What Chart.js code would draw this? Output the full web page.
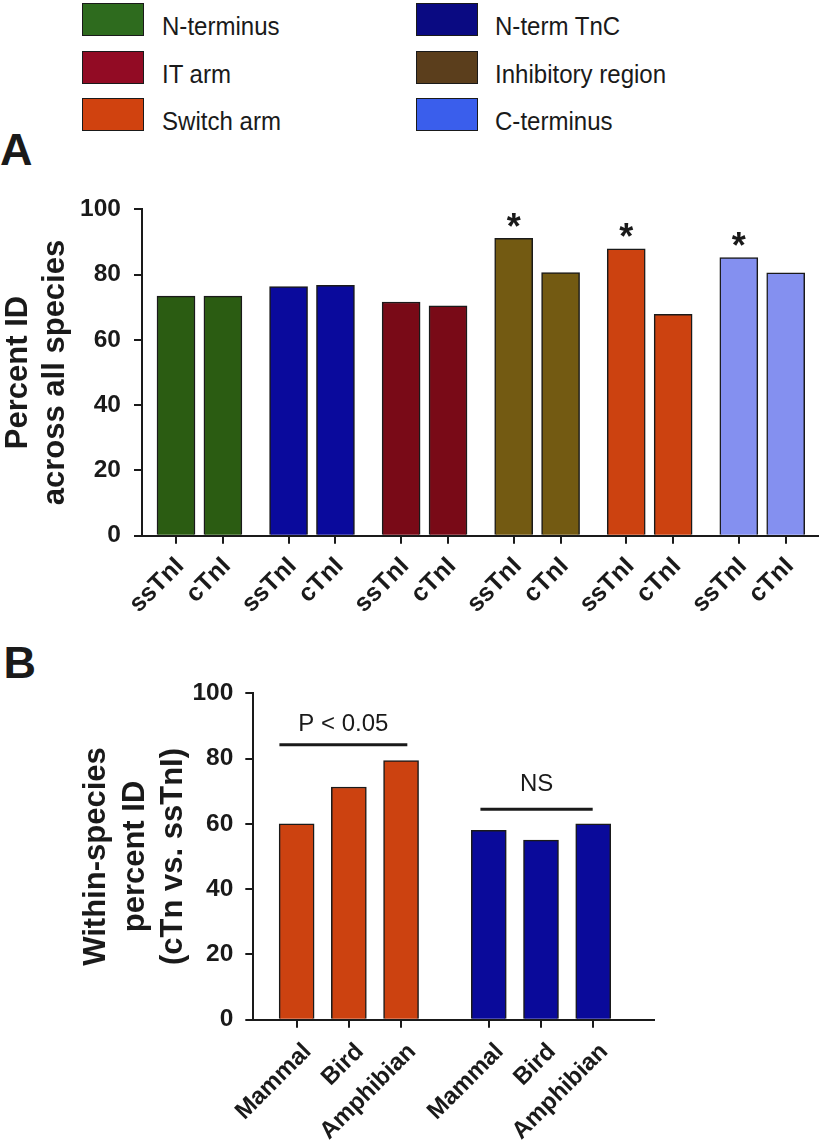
<!DOCTYPE html>
<html>
<head>
<meta charset="utf-8">
<script src="https://cdn.jsdelivr.net/npm/chart.js@4.4.1/dist/chart.umd.min.js"></script>
<style>
html,body{margin:0;padding:0;background:#fff;}
body{width:822px;height:1141px;position:relative;overflow:hidden;font-family:"Liberation Sans",Arial,sans-serif;color:#1a1a1a;}
.sw{position:absolute;box-sizing:border-box;width:62px;height:33px;border:1.5px solid #1a1a1a;}
.lt{position:absolute;font-size:26px;line-height:1;white-space:nowrap;transform-origin:0 50%;transform:translateY(-50%) scaleX(0.925);color:#1a1a1a;}
.pl{position:absolute;font-weight:bold;font-size:45px;line-height:1;color:#1a1a1a;}
.wrap{position:absolute;left:0;}
</style>
</head>
<body>
<div id="legend"></div>
<div class="pl" style="left:0px;top:127px;">A</div>
<div class="pl" style="left:3.5px;top:640px;">B</div>
<div class="wrap" style="top:180px;width:822px;height:470px;"><canvas id="ca" width="822" height="470"></canvas></div>
<div class="wrap" style="top:660px;width:822px;height:481px;"><canvas id="cb" width="822" height="481"></canvas></div>
<script>
// ---------- data ----------
const legendNames = ['N-terminus', 'IT arm', 'Switch arm', 'N-term TnC', 'Inhibitory region', 'C-terminus'];
const legendColors = ['#2e6b1e', '#920b24', '#d0420f', '#0a0a82', '#5b3e1c', '#3a5eec'];

const tickLabelsA = ['ssTnI', 'cTnI', 'ssTnI', 'cTnI', 'ssTnI', 'cTnI', 'ssTnI', 'cTnI', 'ssTnI', 'cTnI', 'ssTnI', 'cTnI'];
const valuesA = [73.4, 73.4, 76.3, 76.7, 71.6, 70.4, 91.1, 80.6, 87.9, 67.8, 85.2, 80.5];
const barColorsA = ['#2b5c12', '#2b5c12', '#0a0a9c', '#0a0a9c', '#790a17', '#790a17', '#735a12', '#735a12', '#cc4210', '#cc4210', '#8490f0', '#8490f0'];
const starsA = ['', '', '', '', '', '', '*', '', '*', '', '*', ''];

const tickLabelsB = ['Mammal', 'Bird', 'Amphibian', 'Mammal', 'Bird', 'Amphibian'];
const valuesB = [60, 71.3, 79.4, 58, 55, 60];
const barColorsB = ['#cc4210', '#cc4210', '#cc4210', '#0a0a9a', '#0a0a9a', '#0a0a9a'];
const bracketsB = [
  {x0: -0.33, x1: 2.12, level: 84.2, textLevel: 90.5, text: 'P < 0.05'},
  {x0: 3.52, x1: 5.67, level: 64.5, textLevel: 72.1, text: 'NS'}
];

// ---------- layout helpers ----------
const FONT = "'Liberation Sans', Arial, sans-serif";
const INK = '#1a1a1a';
const slotA = i => Math.floor(i / 2) * 2.4 + (i % 2);
const slotB = i => Math.floor(i / 3) * 3.68 + (i % 3);

// legend (two columns, three rows)
(function () {
  const lg = document.getElementById('legend');
  const colBoxX = [81.7, 416];
  const colTextX = [161.7, 494.5];
  const rowTop = [3, 50.5, 97.7];
  legendNames.forEach((name, i) => {
    const col = Math.floor(i / 3), row = i % 3;
    const sw = document.createElement('div');
    sw.className = 'sw';
    sw.style.left = colBoxX[col] + 'px';
    sw.style.top = rowTop[row] + 'px';
    sw.style.background = legendColors[i];
    lg.appendChild(sw);
    const t = document.createElement('div');
    t.className = 'lt';
    t.textContent = name;
    t.style.left = colTextX[col] + 'px';
    t.style.top = (rowTop[row] + 23) + 'px';
    lg.appendChild(t);
  });
})();

const starPlugin = {
  id: 'stars',
  afterDatasetsDraw(chart) {
    const meta = chart.getDatasetMeta(0);
    const ctx = chart.ctx;
    ctx.save();
    ctx.font = 'bold 36px ' + FONT;
    ctx.fillStyle = INK;
    ctx.textAlign = 'center';
    ctx.textBaseline = 'alphabetic';
    starsA.forEach((s, i) => {
      if (!s) return;
      const el = meta.data[i];
      ctx.fillText(s, el.x, el.y + 0.5);
    });
    ctx.restore();
  }
};

const bracketPlugin = {
  id: 'brackets',
  afterDatasetsDraw(chart) {
    const ctx = chart.ctx, xs = chart.scales.x, ys = chart.scales.y;
    ctx.save();
    ctx.strokeStyle = INK;
    ctx.fillStyle = INK;
    ctx.lineWidth = 3;
    ctx.font = '24px ' + FONT;
    ctx.textAlign = 'center';
    ctx.textBaseline = 'middle';
    bracketsB.forEach(b => {
      const xa = xs.getPixelForValue(b.x0), xb = xs.getPixelForValue(b.x1);
      const y = ys.getPixelForValue(b.level);
      ctx.beginPath();
      ctx.moveTo(xa, y);
      ctx.lineTo(xb, y);
      ctx.stroke();
      ctx.fillText(b.text, (xa + xb) / 2, ys.getPixelForValue(b.textLevel));
    });
    ctx.restore();
  }
};

function axisCommon() {
  return {
    grid: {display: true, drawOnChartArea: false, drawTicks: true, color: INK, lineWidth: 2, offset: false},
    border: {display: true, color: INK, width: 2}
  };
}

// ---------- panel A ----------
new Chart(document.getElementById('ca'), {
  type: 'bar',
  data: {
    datasets: [{
      data: valuesA.map((v, i) => ({x: slotA(i), y: v})),
      backgroundColor: barColorsA,
      borderColor: INK,
      borderWidth: 1.5,
      barThickness: 38
    }]
  },
  options: {
    responsive: false,
    animation: false,
    layout: {padding: {top: 29.3, right: 3.7, left: 0, bottom: 0}},
    plugins: {legend: {display: false}, tooltip: {enabled: false}},
    scales: {
      x: Object.assign(axisCommon(), {
        type: 'linear', offset: false, min: -0.725, max: 13.695,
        afterBuildTicks: s => { s.ticks = tickLabelsA.map((_, i) => ({value: slotA(i)})); },
        afterFit: s => { s.height = 114.3; },
        ticks: {autoSkip: false, maxRotation: 45, minRotation: 45, padding: 8, labelOffset: 4,
          font: {family: FONT, size: 25, weight: 'bold'}, color: INK,
          callback: (v, i) => tickLabelsA[i]}
      }),
      y: Object.assign(axisCommon(), {
        min: 0, max: 100,
        afterFit: s => { s.width = 142; },
        ticks: {stepSize: 20, padding: 13, font: {family: FONT, size: 24.5, weight: 'bold'}, color: INK},
        title: {display: true, text: ['Percent ID', 'across all species'],
          font: {family: FONT, size: 31, weight: 'bold', lineHeight: 1.2}, color: INK, padding: {top: 0, bottom: 0}}
      })
    }
  },
  plugins: [starPlugin]
});

// ---------- panel B ----------
new Chart(document.getElementById('cb'), {
  type: 'bar',
  data: {
    datasets: [{
      data: valuesB.map((v, i) => ({x: slotB(i), y: v})),
      backgroundColor: barColorsB,
      borderColor: INK,
      borderWidth: 1.5,
      barThickness: 35
    }]
  },
  options: {
    responsive: false,
    animation: false,
    layout: {padding: {top: 33.3, right: 167.7, left: 77, bottom: 0}},
    plugins: {legend: {display: false}, tooltip: {enabled: false}},
    scales: {
      x: Object.assign(axisCommon(), {
        type: 'linear', offset: false, min: -0.83, max: 6.85,
        afterBuildTicks: s => { s.ticks = tickLabelsB.map((_, i) => ({value: slotB(i)})); },
        afterFit: s => { s.height = 121.3; },
        ticks: {autoSkip: false, maxRotation: 45, minRotation: 45, padding: 10, labelOffset: 11,
          font: {family: FONT, size: 24, weight: 'bold'}, color: INK,
          callback: (v, i) => tickLabelsB[i]}
      }),
      y: Object.assign(axisCommon(), {
        min: 0, max: 100,
        afterFit: s => { s.width = 176.3; },
        ticks: {stepSize: 20, padding: 12, font: {family: FONT, size: 24.5, weight: 'bold'}, color: INK},
        title: {display: true, text: ['Within-species', 'percent ID', '(cTn vs. ssTnI)'],
          font: {family: FONT, size: 31, weight: 'bold', lineHeight: 1.25}, color: INK, padding: {top: 0, bottom: 0}}
      })
    }
  },
  plugins: [bracketPlugin]
});
</script>
</body>
</html>
